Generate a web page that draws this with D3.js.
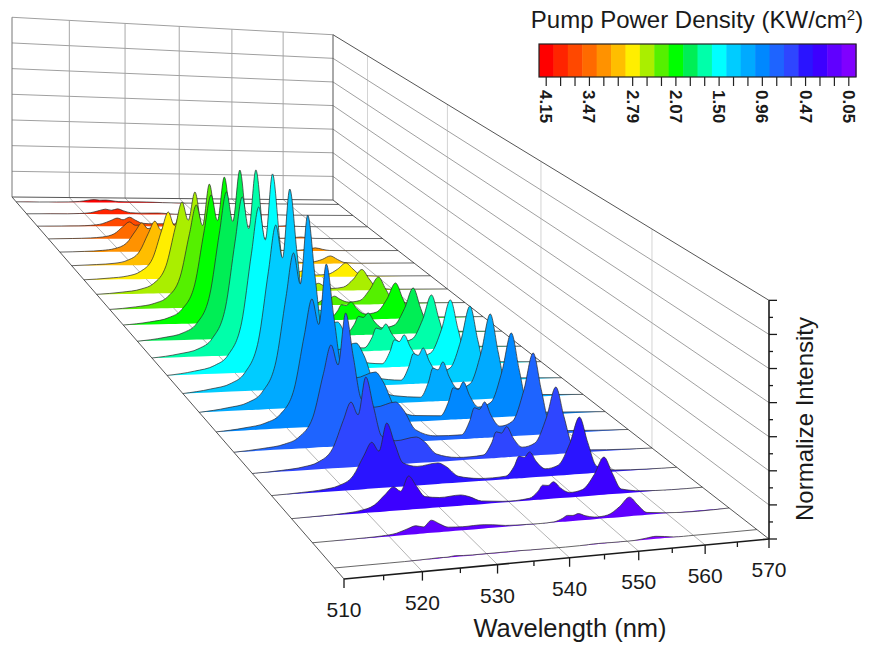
<!DOCTYPE html>
<html>
<head>
<meta charset="utf-8">
<script src="https://cdn.jsdelivr.net/npm/d3@7"></script>
<style>
  body { margin: 0; background: #fff; }
  text { font-family: "Liberation Sans", Arial, sans-serif; fill: #1a1a1a; }
</style>
</head>
<body>
<svg id="chart" width="874" height="648"></svg>
<script>
// wavelength samples (nm), shared by every spectrum
const wavelengths = [510, 514, 517, 519, 521, 522.5, 523.6, 524.6, 525.7, 526.8, 528, 530, 533, 534.2, 536, 539, 543, 544.3, 545, 545.8, 546.6, 547.6, 549, 551, 552.8, 554.3, 555.6, 557, 560, 570];

// intensities, back row (4.15) first, front row (0.05) last
const spectra = [
  [0,0,.1,.2,.5,1.2,1.6,1.3,1.4,1,.6,.5,.5,.4,.2,.1,0,.1,.1,.1,.1,.1,0,0,.1,.1,.1,0,0,0],
  [0,.1,.1,.3,.8,2,2.8,2.2,3,1.9,.9,.7,.8,.6,.2,.1,0,.1,.2,.2,.2,.1,.1,.1,.1,.2,.1,0,0,0],
  [0,.1,.2,.5,1.4,3.2,4.5,3.6,5,3.3,1.7,1.4,1.5,1.2,.5,.2,0,.2,.3,.2,.3,.2,.1,.1,.3,.5,.3,.1,0,0],
  [0,.2,.5,1,2.7,6.6,9.1,7.3,7.5,5.1,2.8,2.3,2.5,2,.8,.3,.1,.3,.4,.4,.5,.3,.2,.2,.5,.9,.5,.1,0,0],
  [0,.3,.8,1.7,4.6,11,15.3,12.2,13,8.7,4.4,3.6,4,3.2,1.2,.5,.1,.5,.9,.8,1,.6,.3,.4,.9,1.7,.9,.2,.1,0],
  [0,.5,1.1,2.5,6.9,16.5,22.9,18.3,22,14.3,6.6,5.4,6,4.8,1.8,.7,.3,1.3,2.1,2,2.5,1.6,.8,1,2.3,4.2,2.3,.5,.1,0],
  [0,.7,1.7,3.8,10.3,24.7,34.3,27.4,35,21.9,8.8,7.2,8,6.4,2.4,1,.4,1.8,3,2.8,3.5,2.2,1.1,1.4,4.1,7.4,4.1,.9,.2,0],
  [0,.9,2.3,5,13.8,33,45.9,36.7,51,31,11,9,10,8,3,1.2,.5,2,3.4,3.2,4,2.5,1.2,1.8,6,11,6,1.3,.3,0],
  [0,1,2.6,5.6,15.3,36.7,51,40.8,61.4,37.9,14.3,11.7,13,10.4,3.9,1.6,.6,2.3,3.9,3.7,4.6,2.9,1.4,2.1,7.8,14.2,7.8,1.7,.4,0],
  [0,1.2,3.1,6.9,18.7,44.9,62.4,49.9,71.2,45,18.7,15.3,17,13.6,5.1,2,1.1,4.5,7.7,7.2,9,5.6,2.7,3.6,10.1,18.3,10.1,2.2,.5,0],
  [0,1.4,3.5,7.7,21.1,50.6,70.3,56.2,80.9,52,23.1,18.9,21,16.8,6.3,2.5,1.3,5.5,9.3,8.7,10.9,6.8,3.3,4.4,12.7,23,12.7,2.8,.7,0],
  [0,1.5,3.7,8.2,22.3,53.6,74.4,59.5,87.2,57.4,27.5,22.5,25,20,7.5,3,1.6,6.5,11.1,10.4,13,8.1,3.9,5.2,14.7,26.8,14.7,3.2,.8,0],
  [0,1.5,3.8,8.4,22.9,54.9,76.2,61,91.6,61.2,30.8,25.2,28,22.4,8.4,3.4,1.8,7.7,13,12.2,15.3,9.5,4.6,6.2,17.4,31.7,17.4,3.8,1,0],
  [0,1.5,3.7,8.2,22.4,53.7,74.6,59.7,91,62,33,27,30,24,9,3.6,2,8.4,14.3,13.4,16.8,10.4,5,6.8,19.9,36.1,19.9,4.3,1.1,0],
  [0,1.4,3.4,7.6,20.7,49.6,68.9,55.1,85.8,58.3,30.8,25.2,28,22.4,8.4,3.4,2.2,9.1,15.4,14.5,18.1,11.2,5.4,7.4,21.9,39.8,21.9,4.8,1.2,0],
  [0,1.1,2.8,6.1,16.7,40.2,55.8,44.6,71,48.1,25.2,20.6,22.9,18.3,6.9,2.7,2,8.5,14.4,13.5,16.9,10.5,5.1,7,21.2,38.5,21.2,4.6,1.2,0],
  [0,.9,2.2,4.8,13,31.3,43.5,34.8,57,38.3,19.6,16,17.8,14.2,5.3,2.1,1.9,8,13.6,12.8,16,9.9,4.8,6.7,20.4,37.1,20.4,4.5,1.1,0],
  [0,.5,1.4,3,8.2,19.7,27.3,21.8,37.5,24.9,12.2,10,11.1,8.9,3.3,1.3,1.6,6.7,11.4,10.7,13.4,8.3,4,5.5,16.4,29.8,16.4,3.6,.9,0],
  [0,.4,1,2.1,5.7,13.7,19,15.2,26.6,18.1,9.7,7.9,8.8,7,2.6,1.1,1.3,5.5,9.4,8.8,11,6.8,3.3,4.5,13.6,24.8,13.6,3,.7,0],
  [0,.2,.5,1.1,2.9,6.9,9.6,7.7,13.6,9.2,4.8,4,4.4,3.5,1.3,.5,.9,3.6,6,5.7,7.1,4.4,2.1,2.9,8.9,16.1,8.9,1.9,.5,0],
  [0,.1,.2,.4,1,2.4,3.3,2.6,5,3.3,1.7,1.4,1.5,1.2,.5,.2,.3,1.5,2.5,2.3,2.9,1.8,.9,1.3,4.4,8,4.4,1,.2,0],
  [0,0,0,0,.1,.2,.3,.2,.5,.3,.2,.2,.2,.2,.1,0,0,.1,.2,.2,.2,.1,.1,.1,.6,1,.6,.1,0,0]
];

const seriesColors = ['#ff0000', '#ff2400', '#ff4800', '#ff6a00', '#ff9200', '#ffbe00', '#ffee00', '#aaee00', '#55f000', '#00ff00', '#00ee55', '#00ffaa', '#00ffff', '#00ccff', '#00aaff', '#0088ff', '#1e64ff', '#2e46ff', '#2a14ff', '#3c00ff', '#6000ff', '#8000ff'];
const powerLabels = ['4.15', '3.47', '2.79', '2.07', '1.50', '0.96', '0.47', '0.05'];
const wallGridSeries = [2, 7, 12, 17]; // rows that carry a vertical line on the right wall

const svg = d3.select('#chart');

// Floor corners on screen, used to solve the perspective of the box
const floor = { frontLeft: [344, 579], frontRight: [769, 539], backRight: [333, 200], backLeft: [12, 197] };
const boxHeight = 270;

const xScale = d3.scaleLinear().domain([510, 570]).range([0, 1]);
const zScale = d3.scalePoint().domain(d3.range(spectra.length)).range([0.9812, 0.0194]);
const yScale = d3.scaleLinear().domain([0, 100]).range([0, boxHeight]);

const project = makeProjection(floor);

// Square to quad homography, x and z in 0..1, height in pixels at w = 1
function makeProjection(q) {
  const [x0, y0] = q.frontLeft, [x1, y1] = q.frontRight, [x2, y2] = q.backRight, [x3, y3] = q.backLeft;
  const dx1 = x1 - x2, dx2 = x3 - x2, sx = x0 - x1 + x2 - x3;
  const dy1 = y1 - y2, dy2 = y3 - y2, sy = y0 - y1 + y2 - y3;
  const den = dx1 * dy2 - dx2 * dy1;
  const g = (sx * dy2 - dx2 * sy) / den;
  const h = (dx1 * sy - sx * dy1) / den;
  const a = x1 - x0 + g * x1, b = x3 - x0 + h * x3;
  const d = y1 - y0 + g * y1, e = y3 - y0 + h * y3;
  return function(x, z, height) {
    const w = g * x + h * z + 1;
    return [(a * x + b * z + x0) / w, (d * x + e * z + y0 - (height || 0)) / w];
  };
}

function seg(layer, p1, p2, color, width) {
  layer.append('line')
    .attr('x1', p1[0]).attr('y1', p1[1])
    .attr('x2', p2[0]).attr('y2', p2[1])
    .attr('stroke', color).attr('stroke-width', width);
}

drawBox();
drawSpectra();
drawAxes();
drawColorBar();

function drawBox() {
  const box = svg.append('g').attr('class', 'box');
  const majorY = d3.range(0, 8).map(d => yScale(d * 100 / 7));
  const waveTicks = xScale.ticks(6).map(xScale);

  // right wall first so the back wall sits over it
  wallGridSeries.forEach(s => {
    seg(box, project(1, zScale(s), 0), project(1, zScale(s), boxHeight), '#d4d4d4', 1);
  });
  majorY.forEach(h => {
    if (h === 0) return;
    seg(box, project(1, 1, h), project(1, 0, h), h === boxHeight ? '#555' : '#a0a0a0', 1);
  });

  // back wall
  waveTicks.forEach(x => {
    if (x === 0 || x === 1) return;
    seg(box, project(x, 1, 0), project(x, 1, boxHeight), '#a8a8a8', 1);
  });
  majorY.forEach(h => {
    if (h === 0) return;
    seg(box, project(0, 1, h), project(1, 1, h), '#a0a0a0', 1);
  });
  seg(box, project(0, 1, 0), project(0, 1, boxHeight), '#777', 1);
  seg(box, project(1, 1, 0), project(1, 1, boxHeight), '#555', 1);

  // floor
  waveTicks.forEach(x => {
    if (x === 0 || x === 1) return;
    seg(box, project(x, 1, 0), project(x, 0, 0), '#b4b4b4', 1);
  });
  seg(box, project(0, 1, 0), project(1, 1, 0), '#555', 1);
  seg(box, project(0, 1, 0), project(0, 0, 0), '#555', 1);
  seg(box, project(1, 1, 0), project(1, 0, 0), '#555', 1);
}

function drawSpectra() {
  const layer = svg.append('g').attr('class', 'spectra');
  spectra.forEach((values, s) => {
    const z = zScale(s);
    const pts = values.map((v, j) => {
      const x = xScale(wavelengths[j]);
      return { base: project(x, z, 0), top: project(x, z, yScale(v)) };
    });
    const area = d3.area()
      .x(d => d.top[0])
      .y0(d => d.base[1])
      .y1(d => d.top[1])
      .curve(d3.curveMonotoneX);
    const line = d3.line()
      .x(d => d.top[0])
      .y(d => d.top[1])
      .curve(d3.curveMonotoneX);
    layer.append('path')
      .attr('d', area(pts))
      .attr('fill', seriesColors[s]);
    layer.append('path')
      .attr('d', line(pts))
      .attr('fill', 'none')
      .attr('stroke', '#2a2a2a')
      .attr('stroke-opacity', 0.8)
      .attr('stroke-width', 0.9);
  });
}

function drawAxes() {
  const axes = svg.append('g').attr('class', 'axes');

  // wavelength axis along the front edge of the floor
  seg(axes, project(0, 0, 0), project(1, 0, 0), '#1a1a1a', 1.6);
  xScale.ticks(12).forEach(t => {
    const p = project(xScale(t), 0, 0);
    const major = t % 10 === 0;
    seg(axes, p, [p[0], p[1] + (major ? 9 : 5)], '#1a1a1a', 1.3);
    if (major) {
      axes.append('text')
        .attr('x', p[0])
        .attr('y', p[1] + 38)
        .attr('text-anchor', 'middle')
        .style('font-size', '21px')
        .text(t);
    }
  });
  axes.append('text')
    .attr('x', 570)
    .attr('y', 637)
    .attr('text-anchor', 'middle')
    .style('font-size', '25.5px')
    .text('Wavelength (nm)');

  // intensity axis on the front right corner, no tick labels in the original
  seg(axes, project(1, 0, 0), project(1, 0, boxHeight), '#1a1a1a', 1.6);
  d3.range(0, 15).forEach(k => {
    const p = project(1, 0, yScale(k * 100 / 14));
    seg(axes, p, [p[0] + (k % 2 === 0 ? 8 : 4), p[1]], '#1a1a1a', 1.3);
  });
  axes.append('text')
    .attr('transform', 'translate(813,419) rotate(-90)')
    .attr('text-anchor', 'middle')
    .style('font-size', '24px')
    .text('Normalize Intensity');
}

function drawColorBar() {
  const bar = svg.append('g').attr('class', 'colorbar');
  const band = d3.scaleBand().domain(d3.range(seriesColors.length)).range([539, 856]);

  bar.selectAll('rect.cell')
    .data(seriesColors)
    .enter().append('rect')
    .attr('class', 'cell')
    .attr('x', (d, i) => band(i))
    .attr('y', 44)
    .attr('width', band.bandwidth() + 0.5)
    .attr('height', 33)
    .attr('fill', d => d);
  bar.append('rect')
    .attr('x', 539).attr('y', 44)
    .attr('width', 317).attr('height', 33)
    .attr('fill', 'none')
    .attr('stroke', '#222')
    .attr('stroke-width', 1.2);

  const axis = d3.axisBottom(band)
    .tickSize(9)
    .tickFormat(i => (i % 3 === 0 ? powerLabels[i / 3] : ''));
  const g = bar.append('g').attr('transform', 'translate(0,77)').call(axis);
  g.select('.domain').remove();
  g.selectAll('.tick line').attr('stroke', '#222').attr('stroke-width', 1.2);
  g.selectAll('.tick text')
    .attr('transform', 'rotate(90)')
    .attr('x', 13)
    .attr('y', 0)
    .attr('dy', '0.35em')
    .attr('text-anchor', 'start')
    .style('font-size', '17px')
    .style('font-weight', 'bold')
    .style('font-family', '"Liberation Sans", Arial, sans-serif');

  const title = svg.append('text')
    .attr('x', 697)
    .attr('y', 28)
    .attr('text-anchor', 'middle')
    .style('font-size', '24px');
  title.append('tspan').text('Pump Power Density (KW/cm');
  title.append('tspan').attr('dy', -8).style('font-size', '15px').text('2');
  title.append('tspan').attr('dy', 8).text(')');
}
</script>
</body>
</html>
